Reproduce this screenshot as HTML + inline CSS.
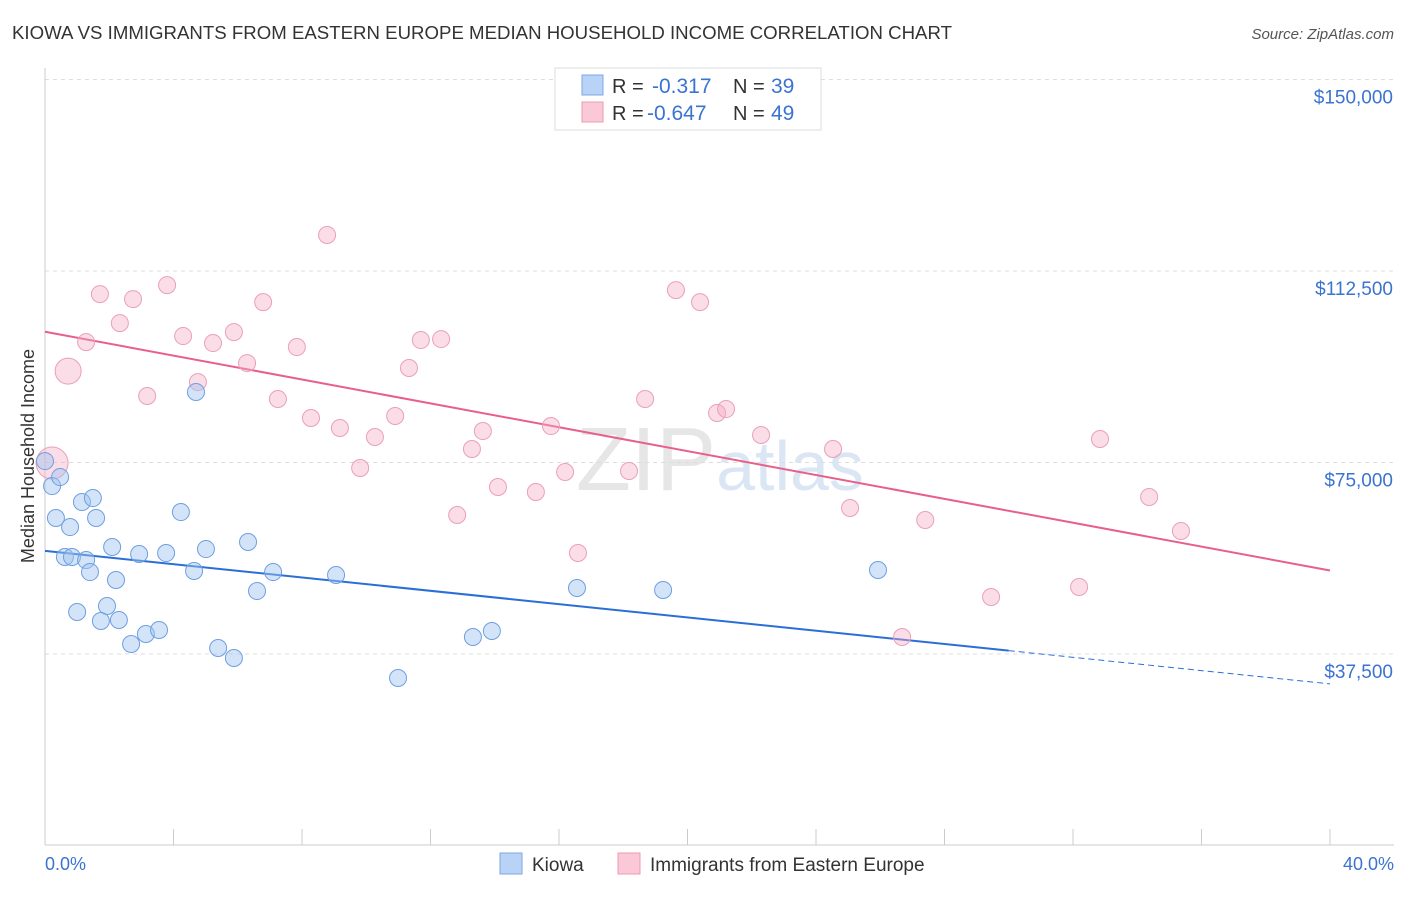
<!DOCTYPE html>
<html><head><meta charset="utf-8"><style>
body{margin:0;background:#fff;font-family:"Liberation Sans",sans-serif;}
svg text{font-family:"Liberation Sans",sans-serif;}
</style></head><body>
<svg id="chart" width="1406" height="892" xmlns="http://www.w3.org/2000/svg">
<text x="12" y="39" font-size="18.5" fill="#333" textLength="940" lengthAdjust="spacingAndGlyphs">KIOWA VS IMMIGRANTS FROM EASTERN EUROPE MEDIAN HOUSEHOLD INCOME CORRELATION CHART</text>
<text x="1394" y="39" font-size="15" fill="#555" text-anchor="end" font-style="italic">Source: ZipAtlas.com</text>
<text x="720" y="490" font-size="90" text-anchor="middle" fill="#e6e6e6" font-family="Liberation Serif">ZIP<tspan fill="#dbe6f5" font-family="Liberation Sans" font-size="70">atlas</tspan></text>
<text transform="translate(34,456) rotate(-90)" font-size="18" fill="#333" text-anchor="middle">Median Household Income</text>
<g id="grid"></g><g id="ticks"></g><g id="lines"></g><g id="dots"></g>
<g>
<rect x="555" y="68" width="266" height="62" fill="#fff" stroke="#ddd"/>
<rect x="582" y="75" width="21" height="20" fill="#b8d3f5" stroke="#7aa8e6"/>
<text x="612" y="93" font-size="20" fill="#333">R = </text><text x="652" y="93" font-size="21" fill="#3a73d1">-0.317</text>
<text x="733" y="93" font-size="20" fill="#333">N = </text><text x="771" y="93" font-size="21" fill="#3a73d1">39</text>
<rect x="582" y="102" width="21" height="20" fill="#fac8d6" stroke="#ec9ab2"/>
<text x="612" y="120" font-size="20" fill="#333">R = </text><text x="647" y="120" font-size="21" fill="#3a73d1">-0.647</text>
<text x="733" y="120" font-size="20" fill="#333">N = </text><text x="771" y="120" font-size="21" fill="#3a73d1">49</text>
</g>
<g>
<rect x="500" y="853" width="22" height="21" fill="#b8d3f5" stroke="#7aa8e6"/>
<text x="532" y="871" font-size="19" fill="#333">Kiowa</text>
<rect x="618" y="853" width="22" height="21" fill="#fac8d6" stroke="#ec9ab2"/>
<text x="650" y="871" font-size="19" fill="#333">Immigrants from Eastern Europe</text>
</g>
<text x="45" y="870" font-size="18" fill="#3a73d1">0.0%</text>
<text x="1394" y="870" font-size="18" fill="#3a73d1" text-anchor="end">40.0%</text>
</svg>
<script>
const yTicks=[37500,75000,112500,150000];
const yTickLabels=["$37,500","$75,000","$112,500","$150,000"];
const kiowaX=[0.0,0.22,0.47,0.34,0.78,1.15,1.49,1.59,0.62,0.84,1.28,1.40,2.09,2.21,2.93,3.77,4.23,4.70,4.64,5.01,6.32,6.60,7.10,9.06,1.00,1.93,1.74,2.30,2.68,3.14,3.55,5.39,5.88,10.99,13.32,13.91,16.56,19.24,25.93];
const kiowaY=[75280,70390,72150,64130,62360,67260,68040,64130,56490,56490,55900,53550,58450,51990,57080,57270,65300,88800,53750,58050,59430,49830,53550,52970,45720,46900,43960,44160,39460,41420,42200,38680,36720,32800,40830,42000,50420,50030,53950];
const eeX=[0.22,0.72,1.28,1.71,2.33,2.74,3.18,3.80,4.30,4.76,5.23,5.88,6.29,6.79,7.25,7.84,8.28,8.78,9.18,9.81,10.27,10.90,11.33,11.70,12.33,12.83,13.29,13.63,14.10,15.28,15.75,16.19,16.59,18.18,18.68,19.64,20.39,20.92,21.20,22.29,24.53,25.06,26.68,27.40,29.45,32.19,32.84,34.37,35.36];
const eeY=[74890,92900,98580,107980,102300,107000,88020,109740,99760,90750,98390,100540,94470,106410,87430,97610,83710,119550,81750,73920,79990,84100,93500,98980,99170,64720,77640,81160,70200,69220,82140,73140,57280,73330,87430,108760,106410,84690,85470,80380,77640,66090,40830,63740,48660,50620,79600,68240,61590];
const eeSize=[16,13];
const NS="http://www.w3.org/2000/svg";
const X=v=>45+v/40*1285, Y=v=>845.5-v/37500*191.5;
function mk(t,a,p){const e=document.createElementNS(NS,t);for(const k in a)e.setAttribute(k,a[k]);document.getElementById(p).appendChild(e);return e;}
yTicks.forEach((t,i)=>{
 const g=mk('line',{x1:45,x2:1394,y1:Y(t),y2:Y(t),stroke:'#ddd','stroke-dasharray':'4,4'},'grid');
 
 
 const l=mk('text',{x:1393,y:Y(t)+24,'font-size':19,fill:'#3a73d1','text-anchor':'end'},'ticks');l.textContent=yTickLabels[i];
 
 
});
mk('line',{x1:45,x2:45,y1:68,y2:845,stroke:'#ccc'},'grid');
mk('line',{x1:45,x2:1394,y1:845,y2:845,stroke:'#ccc'},'grid');
for(let i=0;i<=10;i++){const t=mk('line',{x1:X(i*4),x2:X(i*4),y1:829,y2:845,stroke:'#ccc'},'ticks');
 
 }
function reg(xs,ys){const n=xs.length;let mx=0,my=0;xs.forEach((x,i)=>{mx+=x;my+=ys[i];});mx/=n;my/=n;let sxy=0,sxx=0;xs.forEach((x,i)=>{sxy+=(x-mx)*(ys[i]-my);sxx+=(x-mx)**2;});const b=sxy/sxx;return x=>my+b*(x-mx);}
const fk=reg(kiowaX,kiowaY), fe=reg(eeX,eeY);
let l1=mk('line',{x1:X(0),y1:Y(fk(0)),x2:X(30),y2:Y(fk(30)),stroke:'#2a6fd6','stroke-width':2},'lines');


let l2=mk('line',{x1:X(30),y1:Y(fk(30)),x2:X(40),y2:Y(fk(40)),stroke:'#2a6fd6','stroke-width':1,'stroke-dasharray':'6,4'},'lines');


let l3=mk('line',{x1:X(0),y1:Y(fe(0)),x2:X(40),y2:Y(fe(40)),stroke:'#e8608a','stroke-width':2},'lines');


eeX.forEach((x,i)=>{const c=mk('circle',{cx:X(x),cy:Y(eeY[i]),r:i<2?eeSize[i]:8.5,fill:'rgba(245,170,195,0.4)',stroke:'#eaa0b8','stroke-width':1},'dots');
 
 });
kiowaX.forEach((x,i)=>{const c=mk('circle',{cx:X(x),cy:Y(kiowaY[i]),r:8.5,fill:'rgba(160,195,240,0.45)',stroke:'#6e9fe0','stroke-width':1},'dots');
 
 });
</script>
</body></html>
